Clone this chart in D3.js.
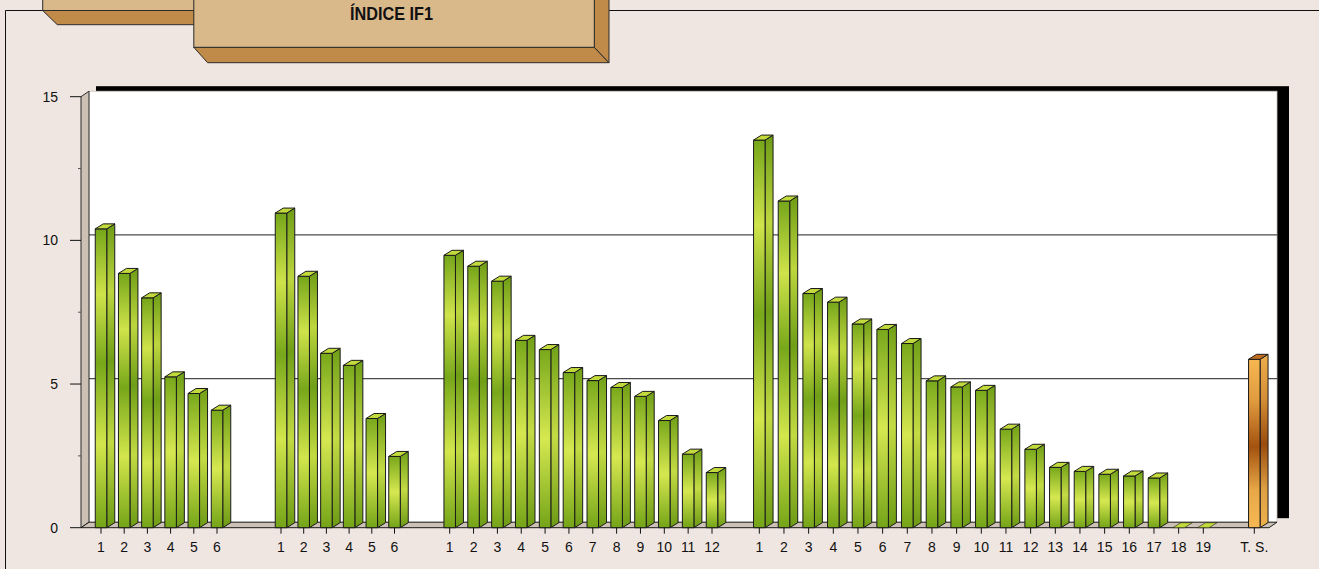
<!DOCTYPE html>
<html><head><meta charset="utf-8">
<script src="https://cdn.jsdelivr.net/npm/d3@7"></script>
<style>html,body{margin:0;padding:0;background:#f0e6e1;overflow:hidden}svg{display:block}</style>
</head><body>
<script>
// ---------------- data ----------------
const title = "ÍNDICE IF1";
const labels1 = ["1","2","3","4","5","6"];
const values1 = [10.4, 8.85, 8.0, 5.25, 4.67, 4.09];
const labels2 = ["1","2","3","4","5","6"];
const values2 = [10.95, 8.75, 6.07, 5.65, 3.8, 2.48];
const labels3 = ["1","2","3","4","5","6","7","8","9","10","11","12"];
const values3 = [9.48, 9.1, 8.58, 6.52, 6.2, 5.4, 5.12, 4.88, 4.57, 3.73, 2.56, 1.92];
const labels4 = ["1","2","3","4","5","6","7","8","9","10","11","12","13","14","15","16","17","18","19"];
const values4 = [13.49, 11.37, 8.15, 7.85, 7.09, 6.9, 6.41, 5.11, 4.9, 4.78, 3.43, 2.73, 2.1, 1.96, 1.86, 1.8, 1.73, 0, 0];
const labelsTS = ["T. S."];
const valuesTS = [5.86];
const yTicks = [0, 5, 10, 15];
const yMinor = [2.5, 7.5, 12.5];
const gridValues = [5, 10];

// ---------------- layout ----------------
const W = 1319, H = 569;
const svg = d3.select("body").append("svg").attr("width", W).attr("height", H);
const defs = svg.append("defs");

const y = d3.scaleLinear().domain([0, 15]).range([527.7, 96.7]);
const plotLeft = 81, plotRight = 1269;
const DX = 8, DY = 5.5;       // wall depth
const BDX = 8, BDY = 5;       // bar depth
const barW = 11.5;

// per-group point scales (the original groups are not evenly spaced)
const groupDefs = [
  {labels: labels1, values: values1, range: [101, 217], kind: "g"},
  {labels: labels2, values: values2, range: [281, 394.5], kind: "g"},
  {labels: labels3, values: values3, range: [449.7, 712], kind: "g"},
  {labels: labels4, values: values4, range: [759.3, 1203.3], kind: "g"},
  {labels: labelsTS, values: valuesTS, range: [1254.3, 1254.3], kind: "o"}
];
groupDefs.forEach(g => {
  g.x = d3.scalePoint().domain(g.labels).range(g.range);
});

// gradients
function grad(id, stops){
  const lg = defs.append("linearGradient").attr("id", id)
    .attr("x1", 0).attr("y1", 0).attr("x2", 0).attr("y2", 1);
  stops.forEach(s => lg.append("stop").attr("offset", s[0]).attr("stop-color", s[1]));
}
grad("gTall", [[0,"#76a61a"],[0.22,"#cfe34a"],[0.45,"#77a71a"],[0.72,"#d3e64c"],[1,"#74a418"]]);
grad("gShort", [[0,"#78a81b"],[0.5,"#d6e850"],[1,"#74a418"]]);
grad("gTallS", [[0,"#6e9c16"],[0.22,"#bdd63e"],[0.45,"#6f9e17"],[0.72,"#c2da42"],[1,"#6c9a15"]]);
grad("gShortS", [[0,"#709f17"],[0.5,"#c4db44"],[1,"#6c9a15"]]);
grad("gOrange", [[0,"#f6b752"],[0.25,"#e09a3e"],[0.52,"#a4520f"],[0.78,"#e8a848"],[1,"#f6b853"]]);
grad("gOrangeS", [[0,"#eeae4c"],[0.25,"#d69038"],[0.52,"#9a4c0e"],[0.78,"#dea044"],[1,"#efb04d"]]);

// ---------------- frame & title tabs ----------------
svg.append("path").attr("d", `M5.5,${H} L5.5,10.5 L${W},10.5`)
  .attr("fill", "none").attr("stroke", "#111").attr("stroke-width", 1);

const tabFace = "#d9b88a", tabBevel = "#c08a48", tabStroke = "#2a2a2a";
// back tab
svg.append("rect").attr("x", 42.7).attr("y", -2).attr("width", 160).attr("height", 12.5)
  .attr("fill", tabFace).attr("stroke", tabStroke);
svg.append("polygon").attr("points", "42.7,10.5 200,10.5 200,24.7 57.3,24.7")
  .attr("fill", tabBevel).attr("stroke", tabStroke);
// front tab
svg.append("polygon").attr("points", "193.8,47.3 594.3,47.3 609,62.7 207.6,62.7")
  .attr("fill", tabBevel).attr("stroke", tabStroke);
svg.append("polygon").attr("points", "594.3,-2 609,-2 609,62.7 594.3,47.3")
  .attr("fill", tabBevel).attr("stroke", tabStroke);
svg.append("rect").attr("x", 193.8).attr("y", -2).attr("width", 400.5).attr("height", 49.3)
  .attr("fill", tabFace).attr("stroke", tabStroke);
svg.append("text").attr("x", 391.5).attr("y", 19.5).attr("text-anchor", "middle")
  .attr("font-family", "'Liberation Sans Narrow', 'Liberation Sans', Arial, sans-serif").attr("font-weight", "bold")
  .attr("font-size", 17.5).attr("textLength", 83).attr("lengthAdjust", "spacingAndGlyphs")
  .attr("fill", "#111").text(title);

// ---------------- walls ----------------
const wallTop = y(15) - DY, wallBottom = y(0) - DY;
const wallLeft = plotLeft + DX, wallRight = plotRight + DX;
// black shadow
svg.append("rect").attr("x", wallLeft + 7).attr("y", wallTop - 5)
  .attr("width", (wallRight + 12) - (wallLeft + 7)).attr("height", (wallBottom - 4) - (wallTop - 5))
  .attr("fill", "#000");
// white back wall
svg.append("rect").attr("x", wallLeft).attr("y", wallTop)
  .attr("width", wallRight - wallLeft).attr("height", wallBottom - wallTop)
  .attr("fill", "#fff").attr("stroke", "#c8c0b8").attr("stroke-width", 0.8);
// gridlines
svg.append("g").selectAll("line").data(gridValues).join("line")
  .attr("x1", wallLeft).attr("x2", wallRight)
  .attr("y1", d => y(d) - DY).attr("y2", d => y(d) - DY)
  .attr("stroke", "#4a4a4a").attr("stroke-width", 1.3);
// left wall
svg.append("polygon")
  .attr("points", [[plotLeft, y(15)], [wallLeft, wallTop], [wallLeft, wallBottom], [plotLeft, y(0)]].join(" "))
  .attr("fill", "#cdc1b6").attr("stroke", "#2a2a2a").attr("stroke-width", 1);
// floor
svg.append("polygon")
  .attr("points", [[plotLeft, y(0)], [plotRight, y(0)], [wallRight, wallBottom], [wallLeft, wallBottom]].join(" "))
  .attr("fill", "#cdc1b6").attr("stroke", "#1a1a1a").attr("stroke-width", 1);

// ---------------- y axis ----------------
const yAxis = svg.append("g");
yAxis.selectAll("line.maj").data(yTicks).join("line").attr("class", "maj")
  .attr("x1", 70).attr("x2", plotLeft).attr("y1", d => y(d)).attr("y2", d => y(d))
  .attr("stroke", "#111").attr("stroke-width", 1);
yAxis.selectAll("line.min").data(yMinor).join("line").attr("class", "min")
  .attr("x1", plotLeft - 3).attr("x2", plotLeft).attr("y1", d => y(d)).attr("y2", d => y(d))
  .attr("stroke", "#555").attr("stroke-width", 1);
yAxis.selectAll("text").data(yTicks).join("text")
  .attr("x", 58).attr("y", d => y(d)).attr("dy", "0.35em").attr("text-anchor", "end")
  .attr("font-family", "'Liberation Sans', Arial, sans-serif").attr("font-size", 14)
  .attr("fill", "#111").text(d => d);

// ---------------- bars ----------------
const bars = svg.append("g").attr("stroke", "#1a1a1a").attr("stroke-width", 1).attr("stroke-linejoin", "round");
groupDefs.forEach(g => {
  g.labels.forEach((lab, i) => {
    const v = g.values[i];
    const cx = g.x(lab);
    const x0 = cx - barW / 2, x1 = cx + barW / 2;
    const yt = y(v), yb = y(0);
    const h = yb - yt;
    const tall = h > 200;
    const front = g.kind === "o" ? "url(#gOrange)" : (tall ? "url(#gTall)" : "url(#gShort)");
    const side = g.kind === "o" ? "url(#gOrangeS)" : (tall ? "url(#gTallS)" : "url(#gShortS)");
    const topC = g.kind === "o" ? "#c06d22" : "#c3da3c";
    const bg = bars.append("g");
    if (h > 0.5) {
      bg.append("polygon")
        .attr("points", [[x1, yt], [x1 + BDX, yt - BDY], [x1 + BDX, yb - BDY], [x1, yb]].join(" "))
        .attr("fill", side);
      bg.append("rect").attr("x", x0).attr("y", yt).attr("width", barW).attr("height", h)
        .attr("fill", front);
    }
    bg.append("polygon")
      .attr("points", [[x0, yt], [x1, yt], [x1 + BDX, yt - BDY], [x0 + BDX, yt - BDY]].join(" "))
      .attr("fill", topC).attr("stroke-width", h > 0.5 ? 1 : 0.6);
  });
});

// ---------------- x axis ----------------
const xAxis = svg.append("g");
groupDefs.forEach(g => {
  const gg = xAxis.append("g");
  gg.selectAll("line").data(g.labels).join("line")
    .attr("x1", d => g.x(d)).attr("x2", d => g.x(d))
    .attr("y1", y(0)).attr("y2", y(0) + 6)
    .attr("stroke", "#111").attr("stroke-width", 1);
  gg.selectAll("text").data(g.labels).join("text")
    .attr("x", d => g.x(d)).attr("y", 552).attr("text-anchor", "middle")
    .attr("font-family", "'Liberation Sans', Arial, sans-serif").attr("font-size", 14)
    .attr("fill", "#111").text(d => d);
});
</script>
</body></html>
